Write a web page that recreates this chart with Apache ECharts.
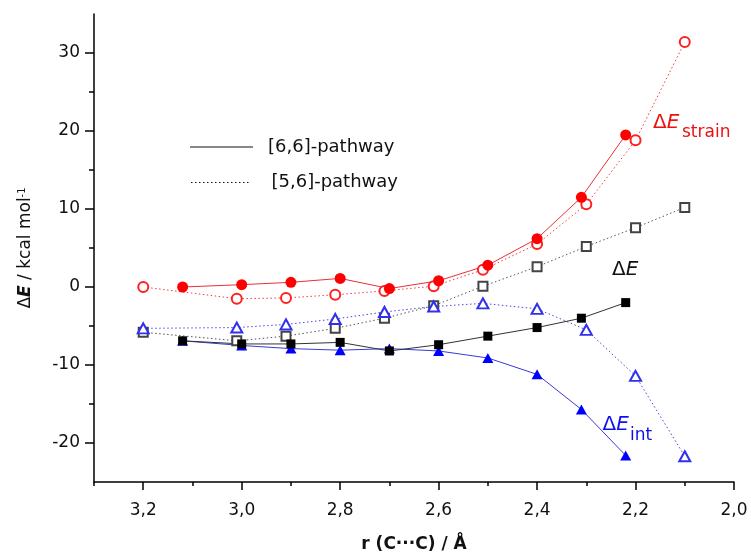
<!DOCTYPE html>
<html><head><meta charset="utf-8">
<script src="https://cdn.jsdelivr.net/npm/echarts@6/dist/echarts.min.js"></script>
<style>html,body{margin:0;padding:0;background:#fff}#c{width:751px;height:558px}</style>
</head><body><div id="c"></div>
<script>
// ---- data ----
const xTicks = [3.2, 3.0, 2.8, 2.6, 2.4, 2.2, 2.0];
const xMinorTicks = [3.3, 3.1, 2.9, 2.7, 2.5, 2.3, 2.1];
const yTicks = [-20, -10, 0, 10, 20, 30];
const yMinorTicks = [-15, -5, 5, 15, 25];

const x66 = [3.12, 3.00, 2.90, 2.80, 2.70, 2.60, 2.50, 2.40, 2.31, 2.22];
const x56 = [3.20, 3.01, 2.91, 2.81, 2.71, 2.61, 2.51, 2.40, 2.30, 2.20, 2.10];

const strain66 = [0.0, 0.3, 0.6, 1.1, -0.2, 0.8, 2.8, 6.2, 11.5, 19.5];
const strain56 = [0.0, -1.5, -1.4, -1.0, -0.5, 0.1, 2.2, 5.5, 10.6, 18.8, 31.4];
const dE66 = [-6.9, -7.3, -7.3, -7.1, -8.2, -7.4, -6.3, -5.2, -4.0, -2.0];
const dE56 = [-5.8, -6.9, -6.3, -5.3, -4.0, -2.4, 0.1, 2.6, 5.2, 7.6, 10.2];
const int66 = [-6.9, -7.5, -7.9, -8.1, -7.9, -8.2, -9.1, -11.2, -15.7, -21.6];
const int56 = [-5.3, -5.2, -4.8, -4.1, -3.2, -2.5, -2.1, -2.8, -5.5, -11.4, -21.7];

const zip = (xs, ys) => xs.map((x, i) => [x, ys[i]]);
const FONT = 'DejaVu Sans';
const DOT = [1.5, 2.5];

function mk(name, xs, ys, symbol, size, color, lineColor, dotted, filled) {
  return {
    name, type: 'line', data: zip(xs, ys), symbol, symbolSize: size,
    showAllSymbol: true, silent: true,
    itemStyle: filled ? { color: color, borderWidth: 0 } : { color: color, borderColor: color, borderWidth: 1 },
    lineStyle: { color: lineColor, width: 1, type: dotted ? DOT : 'solid' },
    emphasis: { disabled: true }
  };
}

const chart = echarts.init(document.getElementById('c'), null, { renderer: 'canvas' });
chart.setOption({
  animation: false,
  backgroundColor: '#fff',
  grid: { left: 94, right: 17, top: 14, bottom: 74, containLabel: false },
  xAxis: [{
    type: 'value', min: 2.0, max: 3.3, inverse: true, position: 'bottom',
    axisLine: { show: true, onZero: false, lineStyle: { color: '#000', width: 1.5 } },
    axisTick: { show: true, customValues: xTicks, length: 8, lineStyle: { color: '#000', width: 1.5 } },
    axisLabel: { customValues: xTicks, formatter: v => v.toFixed(1).replace('.', ','), fontSize: 17, fontFamily: FONT, color: '#111', margin: 20 },
    splitLine: { show: false },
    name: 'r (C···C) / Å', nameLocation: 'middle', nameGap: 54,
    nameTextStyle: { fontSize: 17, fontWeight: 'bold', fontFamily: FONT, color: '#111' }
  }, {
    type: 'value', min: 2.0, max: 3.3, inverse: true, position: 'bottom', offset: 0,
    axisLine: { show: false, onZero: false },
    axisTick: { show: true, customValues: xMinorTicks, length: 4, lineStyle: { color: '#000', width: 1.5 } },
    axisLabel: { show: false }, splitLine: { show: false }
  }],
  yAxis: [{
    type: 'value', min: -25, max: 35, position: 'left',
    axisLine: { show: true, onZero: false, lineStyle: { color: '#000', width: 1.5 } },
    axisTick: { show: true, customValues: yTicks, length: 9, lineStyle: { color: '#000', width: 1.5 } },
    axisLabel: { customValues: yTicks, fontSize: 17, fontFamily: FONT, color: '#111', margin: 14 },
    splitLine: { show: false },
    name: '{n|Δ}{e|E}{n| / kcal mol}{s|-1}', nameLocation: 'middle', nameGap: 60, nameRotate: 90,
    nameTextStyle: {
      color: '#111', fontFamily: FONT, fontSize: 17,
      rich: {
        n: { fontSize: 17, fontFamily: FONT, color: '#111' },
        e: { fontSize: 17, fontFamily: FONT, fontStyle: 'italic', fontWeight: 'bold', color: '#111' },
        s: { fontSize: 10, fontFamily: FONT, color: '#111', verticalAlign: 'top' }
      }
    }
  }, {
    type: 'value', min: -25, max: 35, position: 'left', offset: 0,
    axisLine: { show: false, onZero: false },
    axisTick: { show: true, customValues: yMinorTicks, length: 5, lineStyle: { color: '#000', width: 1.5 } },
    axisLabel: { show: false }, splitLine: { show: false }
  }],
  series: [
    mk('strain56', x56, strain56, 'emptyCircle', 10, '#ff2020', '#f04040', true, false),
    mk('dE56', x56, dE56, 'emptyRect', 9, '#444', '#555', true, false),
    mk('int56', x56, int56, 'emptyTriangle', [11, 10], '#3030ee', '#4848e0', true, false),
    mk('int66', x66, int66, 'triangle', [11, 10], '#0000ff', '#3a3ad8', false, true),
    mk('dE66', x66, dE66, 'rect', 9, '#000', '#333', false, true),
    mk('strain66', x66, strain66, 'circle', 11, '#ff0000', '#e8303a', false, true)
  ],
  graphic: [
    { type: 'line', shape: { x1: 190, y1: 147, x2: 253, y2: 147 }, style: { stroke: '#111', lineWidth: 1 } },
    { type: 'text', x: 268, y: 147.5, style: { text: '[6,6]-pathway', fontSize: 18, fontFamily: FONT, fill: '#111', verticalAlign: 'middle', align: 'left' } },
    { type: 'line', shape: { x1: 191, y1: 182.5, x2: 251, y2: 182.5 }, style: { stroke: '#111', lineWidth: 1, lineDash: DOT } },
    { type: 'text', x: 271.5, y: 182.5, style: { text: '[5,6]-pathway', fontSize: 18, fontFamily: FONT, fill: '#111', verticalAlign: 'middle', align: 'left' } },

    { type: 'text', x: 653, y: 122.8, style: { text: 'Δ', fontSize: 20, fontFamily: FONT, fill: '#ee1111', verticalAlign: 'middle' } },
    { type: 'text', x: 666.7, y: 122.8, style: { text: 'E', fontSize: 20, fontStyle: 'italic', fontFamily: FONT, fill: '#ee1111', verticalAlign: 'middle' } },
    { type: 'text', x: 682, y: 132.3, style: { text: 'strain', fontSize: 17, fontFamily: FONT, fill: '#ee1111', verticalAlign: 'middle' } },

    { type: 'text', x: 612, y: 269.8, style: { text: 'Δ', fontSize: 20, fontFamily: FONT, fill: '#111', verticalAlign: 'middle' } },
    { type: 'text', x: 625.7, y: 269.8, style: { text: 'E', fontSize: 20, fontStyle: 'italic', fontFamily: FONT, fill: '#111', verticalAlign: 'middle' } },

    { type: 'text', x: 602.6, y: 424.4, style: { text: 'Δ', fontSize: 20, fontFamily: FONT, fill: '#1010ee', verticalAlign: 'middle' } },
    { type: 'text', x: 616.3, y: 424.4, style: { text: 'E', fontSize: 20, fontStyle: 'italic', fontFamily: FONT, fill: '#1010ee', verticalAlign: 'middle' } },
    { type: 'text', x: 630, y: 435.3, style: { text: 'int', fontSize: 17, fontFamily: FONT, fill: '#1010ee', verticalAlign: 'middle' } }
  ]
});
</script>
</body></html>
